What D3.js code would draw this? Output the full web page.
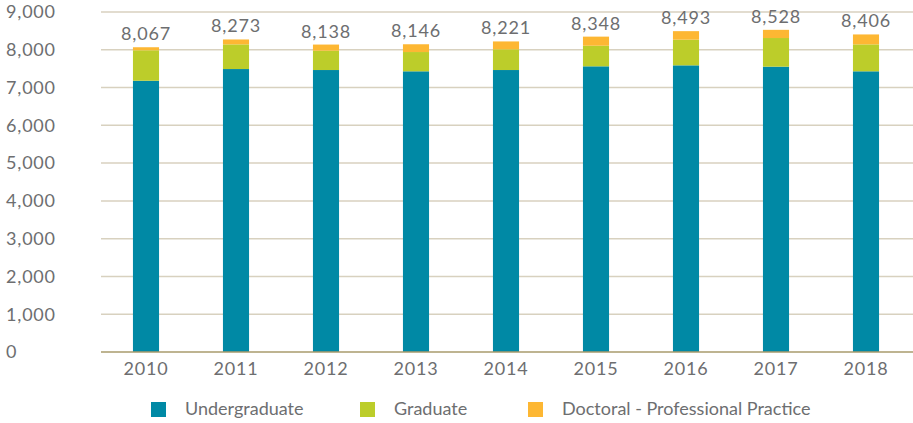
<!DOCTYPE html>
<html>
<head>
<meta charset="utf-8">
<script src="https://cdn.jsdelivr.net/npm/d3@7"></script>
<style>
  body { margin: 0; background: #fff; }
  text { font-family: Lato, "Open Sans", sans-serif; fill: #6d6e70; }
  .num { letter-spacing: 0.8px; }
</style>
</head>
<body>
<div id="chart"></div>
<script>
// enrollment by level
var years = ["2010", "2011", "2012", "2013", "2014", "2015", "2016", "2017", "2018"];
var undergraduate = [7181, 7490, 7464, 7430, 7464, 7562, 7588, 7553, 7430];
var graduate      = [805, 653, 511, 510, 548, 545, 679, 758, 713];
var doctoral      = [81, 130, 163, 206, 209, 241, 226, 217, 263];
var totals        = [8067, 8273, 8138, 8146, 8221, 8348, 8493, 8528, 8406];
var yTicks = [0, 1000, 2000, 3000, 4000, 5000, 6000, 7000, 8000, 9000];

var seriesNames = ["Undergraduate", "Graduate", "Doctoral - Professional Practice"];
var colors = ["#0089a5", "#bccd2a", "#fdb733"];

var width = 913, height = 423;
var margin = { top: 12, right: 2, bottom: 71, left: 101 };

var svg = d3.select("#chart").append("svg")
    .attr("width", width)
    .attr("height", height);

var table = years.map(function(y, i) {
    return { year: y, Undergraduate: undergraduate[i], Graduate: graduate[i],
             "Doctoral - Professional Practice": doctoral[i], total: totals[i] };
});

var x = d3.scaleBand()
    .domain(years)
    .range([margin.left, width - margin.right])
    .paddingInner(0.71)
    .paddingOuter(0.355);

var y = d3.scaleLinear()
    .domain([0, 9000])
    .range([height - margin.bottom, margin.top]);

// gridlines
svg.append("g")
    .selectAll("line")
    .data(yTicks.filter(function(d) { return d > 0; }))
    .enter().append("line")
    .attr("x1", margin.left)
    .attr("x2", width)
    .attr("y1", function(d) { return y(d); })
    .attr("y2", function(d) { return y(d); })
    .attr("stroke", "#d8d1bf")
    .attr("stroke-width", 1.5);

// y labels, left aligned
svg.append("g")
    .selectAll("text")
    .data(yTicks)
    .enter().append("text")
    .attr("class", "num")
    .attr("x", 6)
    .attr("y", function(d) { return y(d); })
    .attr("dy", "0.35em")
    .attr("font-size", "18px")
    .text(function(d) { return d3.format(",")(d); });

var stack = d3.stack().keys(seriesNames)(table);

svg.append("g")
    .selectAll("g")
    .data(stack)
    .enter().append("g")
    .attr("fill", function(d, i) { return colors[i]; })
    .selectAll("rect")
    .data(function(d) { return d; })
    .enter().append("rect")
    .attr("x", function(d) { return x(d.data.year); })
    .attr("width", x.bandwidth())
    .attr("y", function(d) { return y(d[1]); })
    .attr("height", function(d) { return y(d[0]) - y(d[1]); });

// baseline
svg.append("line")
    .attr("x1", margin.left)
    .attr("x2", width)
    .attr("y1", y(0))
    .attr("y2", y(0))
    .attr("stroke", "#a99b6d")
    .attr("stroke-width", 1.5);

// totals above bars
svg.append("g")
    .selectAll("text")
    .data(table)
    .enter().append("text")
    .attr("class", "num")
    .attr("x", function(d) { return x(d.year) + x.bandwidth() / 2; })
    .attr("y", function(d) { return y(d.total) - 7; })
    .attr("text-anchor", "middle")
    .attr("font-size", "18px")
    .text(function(d) { return d3.format(",")(d.total); });

// x labels
svg.append("g")
    .selectAll("text")
    .data(years)
    .enter().append("text")
    .attr("class", "num")
    .attr("x", function(d) { return x(d) + x.bandwidth() / 2; })
    .attr("y", y(0) + 23)
    .attr("text-anchor", "middle")
    .attr("font-size", "18px")
    .text(function(d) { return d; });

// legend
var legendX = [151, 360, 528];
var legend = svg.append("g")
    .selectAll("g")
    .data(seriesNames)
    .enter().append("g")
    .attr("transform", function(d, i) { return "translate(" + legendX[i] + ",402)"; });

legend.append("rect")
    .attr("width", 15)
    .attr("height", 15)
    .attr("fill", function(d, i) { return colors[i]; });

legend.append("text")
    .attr("x", 34)
    .attr("y", 13)
    .attr("font-size", "18px")
    .text(function(d) { return d; });
</script>
</body>
</html>
